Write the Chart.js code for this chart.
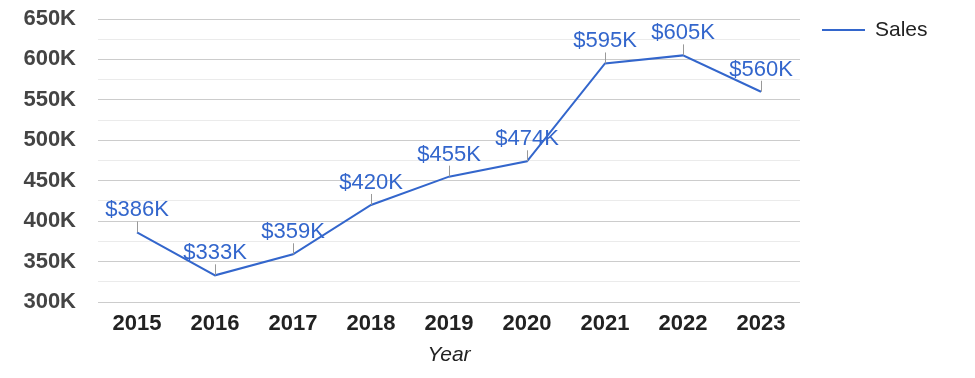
<!DOCTYPE html>
<html>
<head>
<meta charset="utf-8">
<script src="https://cdn.jsdelivr.net/npm/chart.js@4"></script>
<style>
  html, body { margin: 0; padding: 0; background: #fff; }
  #wrap { width: 975px; height: 378px; }
</style>
</head>
<body>
<div id="wrap"><canvas id="chSales"></canvas></div>
<script>
  // =========================
  // DATA
  // =========================
  const YEARS = ['2015','2016','2017','2018','2019','2020','2021','2022','2023'];
  const sales = [386000, 333000, 359000, 420000, 455000, 474000, 595000, 605000, 560000];
  const seriesLabel = 'Sales';
  const axisTitleX = 'Year';

  const BLUE = '#3366cc';
  const fmtK = v => (v / 1000) + 'K';
  const fmtMoney = v => '$' + Math.round(v / 1000) + 'K';

  Chart.defaults.font.family = '"Liberation Sans", Arial, sans-serif';

  // value labels with a small leader line
  const valueLabels = {
    id: 'valueLabels',
    afterDatasetsDraw(chart) {
      const { ctx } = chart;
      const meta = chart.getDatasetMeta(0);
      const data = chart.data.datasets[0].data;
      ctx.save();
      meta.data.forEach((pt, i) => {
        ctx.strokeStyle = '#999';
        ctx.lineWidth = 1;
        ctx.beginPath();
        ctx.moveTo(Math.round(pt.x) + 0.5, pt.y);
        ctx.lineTo(Math.round(pt.x) + 0.5, pt.y - 11);
        ctx.stroke();
        ctx.fillStyle = BLUE;
        ctx.font = '22px "Liberation Sans", Arial, sans-serif';
        ctx.textAlign = 'center';
        ctx.textBaseline = 'alphabetic';
        ctx.fillText(fmtMoney(data[i]), pt.x, pt.y - 16);
      });
      ctx.restore();
    }
  };

  // legend on the right
  const sideLegend = {
    id: 'sideLegend',
    afterDraw(chart) {
      const { ctx } = chart;
      const ds = chart.data.datasets[0];
      ctx.save();
      ctx.strokeStyle = ds.borderColor;
      ctx.lineWidth = 2;
      ctx.beginPath();
      ctx.moveTo(822, 30);
      ctx.lineTo(865, 30);
      ctx.stroke();
      ctx.fillStyle = '#222';
      ctx.font = '21px "Liberation Sans", Arial, sans-serif';
      ctx.textAlign = 'left';
      ctx.textBaseline = 'middle';
      ctx.fillText(ds.label, 875, 30);
      ctx.restore();
    }
  };

  new Chart(document.getElementById('chSales'), {
    type: 'line',
    data: {
      labels: YEARS,
      datasets: [{
        label: seriesLabel,
        data: sales,
        borderColor: BLUE,
        backgroundColor: BLUE,
        borderWidth: 2,
        pointRadius: 0,
        tension: 0
      }]
    },
    options: {
      responsive: true,
      maintainAspectRatio: false,
      animation: false,
      layout: { padding: { top: 19, right: 175, bottom: 0, left: 0 } },
      plugins: {
        legend: { display: false },
        tooltip: { enabled: false }
      },
      scales: {
        x: {
          offset: true,
          grid: { display: false },
          border: { display: false },
          ticks: { color: '#222', font: { size: 22, weight: 'bold' }, padding: 1 },
          title: {
            display: true,
            text: axisTitleX,
            color: '#222',
            font: { size: 21, style: 'italic' },
            padding: { top: 0, bottom: 10 }
          },
          afterFit: s => { s.height = 76; }
        },
        y: {
          min: 300000,
          max: 650000,
          border: { display: false },
          grid: {
            drawTicks: true,
            tickLength: 22,
            tickColor: 'rgba(0,0,0,0)',
            color: c => (c.tick.value % 50000 === 0 ? '#cccccc' : '#ebebeb')
          },
          ticks: {
            stepSize: 25000,
            autoSkip: false,
            padding: 0,
            color: '#444',
            font: { size: 22, weight: 'bold' },
            callback: v => (v % 50000 === 0 ? fmtK(v) : '')
          },
          afterFit: s => { s.width = 98; }
        }
      }
    },
    plugins: [valueLabels, sideLegend]
  });
</script>
</body>
</html>
